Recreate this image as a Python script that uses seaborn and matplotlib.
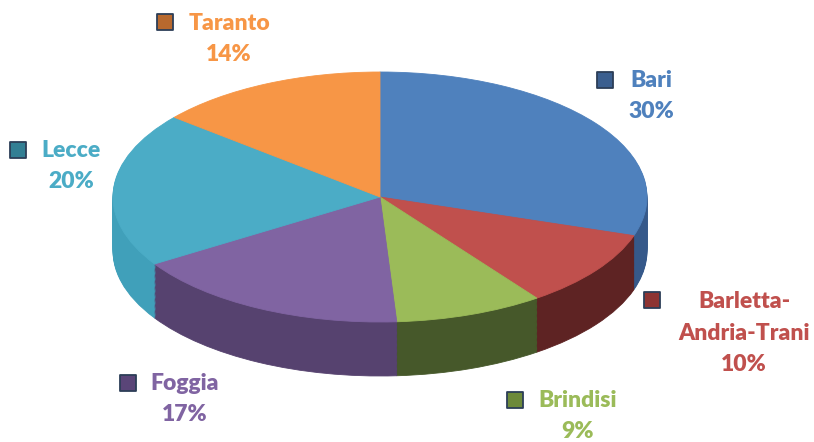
import matplotlib
matplotlib.use("Agg")
import matplotlib.pyplot as plt
import seaborn as sns

# shares of each province
districts = ["Bari", "Barletta-\nAndria-Trani", "Brindisi", "Foggia", "Lecce", "Taranto"]
shares = [30, 10, 9, 17, 20, 14]
pct_labels = ["30%", "10%", "9%", "17%", "20%", "14%"]

top_colors = ["#4F81BD", "#C0504D", "#9BBB59", "#8064A2", "#4BACC6", "#F79646"]
side_colors = ["#36598a", "#5e2323", "#46582a", "#56426f", "#40a0ba", "#b56a2e"]
marker_colors = ["#3b5f8f", "#8e3432", "#6d8a3a", "#5a4578", "#327f94", "#b8692e"]

# label layout (pixel positions): text block centre and marker
label_pos = [(651, 96), (744, 333), (578, 416), (185, 399), (71, 166), (229, 39)]
marker_pos = [(605, 80), (652, 300), (515, 400), (128, 383), (18, 150), (165, 22)]

W, H = 814, 442
cx, cy, rx, ry, depth = 380, 197, 267, 125, 54
k = rx / ry


def to_data(py):
    return (H - py) * k


sns.set_theme(style="white")
plt.rcParams["font.family"] = ["Lato", "DejaVu Sans"]

fig = plt.figure(figsize=(W / 100, H / 100), dpi=100)
ax = fig.add_axes([0, 0, 1, 1])

# side wall: stack of darker pies
steps = 45
for i in range(steps, 0, -1):
    off = depth * i / steps
    wedges, _ = ax.pie(shares, colors=side_colors, startangle=90, counterclock=False,
                       radius=rx, center=(cx, to_data(cy + off)))
    for w in wedges:
        w.set_edgecolor(w.get_facecolor())
        w.set_linewidth(0.6)

# top face
wedges, _ = ax.pie(shares, colors=top_colors, startangle=90, counterclock=False,
                   radius=rx, center=(cx, to_data(cy)))
for w in wedges:
    w.set_edgecolor(w.get_facecolor())
    w.set_linewidth(0.6)

ax.set_aspect("auto")
ax.set_xlim(0, W)
ax.set_ylim(0, H * k)
ax.axis("off")

for name, pct, col, mcol, (lx, ly), (mx, my) in zip(districts, pct_labels, top_colors,
                                                    marker_colors, label_pos, marker_pos):
    fig.text(lx / W, 1 - ly / H, f"{name}\n{pct}", color=col, fontsize=16.5,
             fontweight="heavy", ha="center", va="center", multialignment="center",
             linespacing=1.62)
    ax.scatter([mx], [to_data(my)], marker="s", s=140, color=mcol,
               edgecolors="#2c3e57", linewidths=1.3, zorder=5)

fig.savefig("out.png", dpi=100)
